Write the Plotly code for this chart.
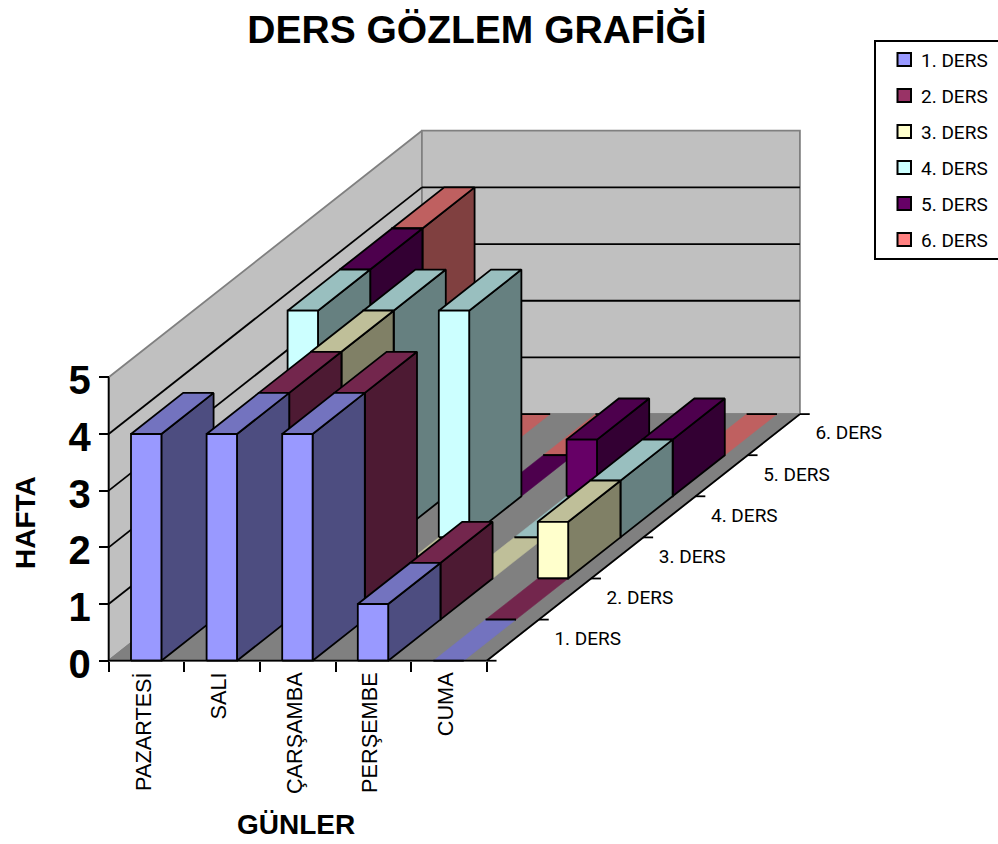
import plotly.graph_objects as go

# ---- data ----
days = ["PAZARTESİ", "SALI", "ÇARŞAMBA", "PERŞEMBE", "CUMA"]
lessons = ["1. DERS", "2. DERS", "3. DERS", "4. DERS", "5. DERS", "6. DERS"]
ders1 = [4, 4, 4, 1, 0]
ders2 = [0, 4, 4, 1, 0]
ders3 = [0, 4, 0, 0, 1]
ders4 = [4, 4, 4, 0, 1]
ders5 = [4, 0, 0, 1, 1]
ders6 = [4, 0, 0, None, 0]
series = [ders1, ders2, ders3, ders4, ders5, ders6]
week_ticks = [0, 1, 2, 3, 4, 5]

front_colors = ["#9999FF", "#993366", "#FFFFCC", "#CCFFFF", "#660066", "#FF8080"]
top_colors = ["#7373BF", "#73264D", "#BFBF99", "#99BFBF", "#4D004D", "#BF6060"]
side_colors = ["#4D4D80", "#4D1A33", "#808066", "#668080", "#330033", "#804040"]

# ---- page geometry ----
W, H = 998, 844
def fx(px): return px / W
def fy(py): return 1 - py / H

AX_L, AX_R, AX_B, AX_T = 108.7, 486.7, 660.7, 377.3
NC, NS = len(days), len(lessons)
YMAX = week_ticks[-1]
UX = (AX_R - AX_L) / NC            # pixels per category
UY = (AX_B - AX_T) / YMAX          # pixels per value
DX, DY = 52.2 / UX, 41.1 / UY      # oblique shift of one depth row, in axis units
B0, B1 = 0.295, 0.697              # bar extent inside a category
NARROW = "Roboto, Liberation Sans, Arial, sans-serif"
SANS = "Liberation Sans, Arial, sans-serif"
LW = 1.8

def proj(x, depth, v):
    return x + depth * DX, v + depth * DY

def poly(points, fill, line="black", width=LW):
    xs = [p[0] for p in points] + [points[0][0]]
    ys = [p[1] for p in points] + [points[0][1]]
    return go.Scatter(x=xs, y=ys, mode="lines", fill="toself", fillcolor=fill,
                      line=dict(color=line, width=width), hoverinfo="skip", showlegend=False)

def segs(segments, color="black", width=LW):
    xs, ys = [], []
    for a, b in segments:
        xs += [a[0], b[0], None]
        ys += [a[1], b[1], None]
    return go.Scatter(x=xs, y=ys, mode="lines", line=dict(color=color, width=width),
                      hoverinfo="skip", showlegend=False)

fig = go.Figure()

# walls and floor
fig.add_trace(poly([proj(0, 0, 0), proj(0, NS, 0), proj(0, NS, YMAX), proj(0, 0, YMAX)], "#C0C0C0", "#808080"))
fig.add_trace(poly([proj(0, NS, 0), proj(NC, NS, 0), proj(NC, NS, YMAX), proj(0, NS, YMAX)], "#C0C0C0", "#808080"))
fig.add_trace(segs([(proj(0, 0, v), proj(0, NS, v)) for v in week_ticks[1:-1]] +
                   [(proj(0, NS, v), proj(NC, NS, v)) for v in week_ticks[1:-1]]))
fig.add_trace(poly([proj(0, 0, 0), proj(NC, 0, 0), proj(NC, NS, 0), proj(0, NS, 0)], "#808080", "#808080"))

# bars, far row first, left to right
for s in range(NS - 1, -1, -1):
    for c in range(NC):
        v = series[s][c]
        if v is None:
            continue
        x0, x1 = c + B0, c + B1
        top = [proj(x0, s, v), proj(x1, s, v), proj(x1, s + 1, v), proj(x0, s + 1, v)]
        if v == 0:
            fig.add_trace(poly(top, top_colors[s], top_colors[s], 0.5))
            fig.add_trace(segs([(top[0], top[1]), (top[3], top[2])]))
            continue
        side = [proj(x1, s, 0), proj(x1, s + 1, 0), proj(x1, s + 1, v), proj(x1, s, v)]
        front = [proj(x0, s, 0), proj(x1, s, 0), proj(x1, s, v), proj(x0, s, v)]
        fig.add_trace(poly(side, side_colors[s]))
        fig.add_trace(poly(top, top_colors[s]))
        fig.add_trace(poly(front, front_colors[s]))

# axis lines and depth axis
fig.add_trace(segs([((0, 0), (0, YMAX)), ((0, 0), (NC, 0)), (proj(NC, 0, 0), proj(NC, NS, 0))]))
fig.add_trace(segs([(proj(NC, s, 0), proj(NC + 0.13, s, 0)) for s in range(NS + 1)]))
lab = [proj(NC + 0.55, s + 0.5, 0) for s in range(NS)]
fig.add_trace(go.Scatter(x=[p[0] for p in lab], y=[p[1] for p in lab], mode="text", text=lessons,
                         textposition="middle right", textfont=dict(family=NARROW, size=19, color="black"),
                         hoverinfo="skip", showlegend=False))

# legend box
shapes = [dict(type="rect", xref="paper", yref="paper", x0=fx(875), x1=fx(1012), y0=fy(41), y1=fy(259),
               line=dict(color="black", width=2), fillcolor="white")]
annotations = []
for i, name in enumerate(lessons):
    yc = 59.5 + 36 * i
    shapes.append(dict(type="rect", xref="paper", yref="paper", x0=fx(897.5), x1=fx(911), y0=fy(yc - 6.5), y1=fy(yc + 6.5),
                       line=dict(color="black", width=2), fillcolor=front_colors[i]))
    annotations.append(dict(xref="paper", yref="paper", x=fx(919), y=fy(yc + 1), text=name, showarrow=False,
                            xanchor="left", yanchor="middle", font=dict(family=NARROW, size=19, color="black")))

annotations.append(dict(xref="paper", yref="paper", x=fx(296), y=fy(824), text="<b>GÜNLER</b>", showarrow=False,
                        xanchor="center", yanchor="middle", font=dict(family=SANS, size=28, color="black")))
annotations.append(dict(xref="paper", yref="paper", x=fx(25), y=fy(523), text="<b>HAFTA</b>", showarrow=False, textangle=-90,
                        xanchor="center", yanchor="middle", font=dict(family=SANS, size=28, color="black")))

fig.update_layout(
    width=W, height=H, margin=dict(l=0, r=0, t=0, b=0),
    paper_bgcolor="white", plot_bgcolor="rgba(0,0,0,0)", showlegend=False,
    title=dict(text="<b>DERS GÖZLEM GRAFİĞİ</b>", x=fx(477), y=fy(29), xanchor="center", yanchor="middle",
               font=dict(family=SANS, size=39, color="black")),
    shapes=shapes, annotations=annotations,
    xaxis=dict(domain=[0, 1], range=[-AX_L / UX, (W - AX_L) / UX], anchor="free", position=fy(AX_B),
               showgrid=False, zeroline=False, showline=False,
               tickmode="array", tickvals=[c + 0.5 for c in range(NC)], ticktext=days, tickangle=-90,
               ticks="outside", ticklen=2, tickcolor="rgba(0,0,0,0)", ticklabelshift=-3,
               tickfont=dict(family=SANS, size=21.7, color="black"),
               minor=dict(tickmode="array", tickvals=list(range(NC + 1)), ticks="outside", ticklen=10,
                          tickcolor="black", tickwidth=LW, showgrid=False)),
    yaxis=dict(domain=[0, 1], range=[-(H - AX_B) / UY, AX_B / UY], anchor="free", position=fx(AX_L),
               showgrid=False, zeroline=False, showline=False,
               tickmode="array", tickvals=week_ticks, ticks="outside", ticklen=10,
               tickcolor="black", tickwidth=LW, ticklabelshift=3,
               tickfont=dict(family=SANS, size=40, color="black", weight="bold")),
)

fig.write_html("out.html", post_script="document.body.style.margin='0';",
               config={"displayModeBar": False})
